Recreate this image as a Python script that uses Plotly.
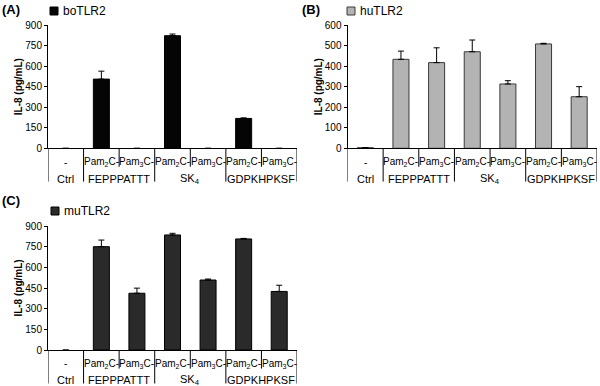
import plotly.graph_objects as go

# ---------------- data ----------------
categories = ["Ctrl", "FEPPPATTT Pam2C", "FEPPPATTT Pam3C", "SK4 Pam2C", "SK4 Pam3C",
              "GDPKHPKSF Pam2C", "GDPKHPKSF Pam3C"]
row1_labels = ["-", "Pam<sub>2</sub>C-", "Pam<sub>3</sub>C-", "Pam<sub>2</sub>C-",
               "Pam<sub>3</sub>C-", "Pam<sub>2</sub>C-", "Pam<sub>3</sub>C-"]
group_labels = ["Ctrl", "FEPPPATTT", "SK<sub>4</sub>", "GDPKHPKSF"]
group_centers = [0, 1.5, 3.5, 5.5]
group_edges = [-0.5, 0.5, 2.5, 4.5, 6.5]
inner_edges = [1.5, 3.5, 5.5]

bo_values = [0, 505, 0, 822, 0, 218, 0]
bo_err = [0, 58, 0, 12, 0, 4, 0]
hu_values = [3, 433, 417, 470, 313, 508, 251]
hu_err = [0, 40, 72, 57, 16, 3, 49]
mu_values = [0, 750, 412, 835, 508, 806, 425]
mu_err = [0, 48, 37, 12, 7, 4, 45]

FONT = "Liberation Sans, Arial, sans-serif"

panels = [
    dict(name="boTLR2", vals=bo_values, err=bo_err, color="#050505", line="#000000",
         xa="x", ya="y", rng=[0, 900], dt=150, label="(A)",
         key=(50, 7, 58, 15), label_pos=(0, 1.0)),
    dict(name="huTLR2", vals=hu_values, err=hu_err, color="#b3b3b3", line="#3a3a3a",
         xa="x2", ya="y2", rng=[0, 600], dt=100, label="(B)",
         key=(347, 7, 355, 15), label_pos=(300, 1.0)),
    dict(name="muTLR2", vals=mu_values, err=mu_err, color="#2a2a2a", line="#000000",
         xa="x3", ya="y3", rng=[0, 900], dt=150, label="(C)",
         key=(51, 207, 59, 215), label_pos=(0, 1 - 191 / 386)),
]

fig = go.Figure()
for p in panels:
    fig.add_trace(go.Bar(
        x=categories, y=p["vals"], name=p["name"], xaxis=p["xa"], yaxis=p["ya"],
        showlegend=False, width=0.45,
        marker=dict(color=p["color"],
                    line=dict(color=p["line"], width=[1 if v > 0 else 0 for v in p["vals"]])),
        error_y=dict(type="data", array=p["err"], arrayminus=[0] * len(p["err"]),
                     symmetric=False, color="#000000", thickness=1, width=3),
    ))

domains = {
    "x": [48 / 600, 297 / 600], "y": [1 - 148.3 / 386, 1 - 25 / 386],
    "x2": [347.5 / 600, 597 / 600], "y2": [1 - 148.3 / 386, 1 - 25 / 386],
    "x3": [48 / 600, 297 / 600], "y3": [1 - 350 / 386, 1 - 226 / 386],
}

layout = dict(
    width=600, height=386, margin=dict(l=0, r=0, t=0, b=0),
    paper_bgcolor="white", plot_bgcolor="white",
    font=dict(family=FONT, color="#000000", size=10),
    showlegend=False,
)

shapes = []
annotations = []
for i, p in enumerate(panels):
    sfx = "" if i == 0 else str(i + 1)
    layout["xaxis" + sfx] = dict(
        domain=domains[p["xa"]], anchor=p["ya"], type="category",
        range=[-0.5, 6.5], showline=True, linecolor="#000000", linewidth=1,
        showticklabels=False, ticks="", showgrid=False, zeroline=False,
        fixedrange=True,
    )
    layout["yaxis" + sfx] = dict(
        domain=domains[p["ya"]], anchor=p["xa"], range=p["rng"], dtick=p["dt"],
        showline=True, linecolor="#000000", linewidth=1, ticks="outside",
        ticklen=3, tickcolor="#000000", showgrid=False, zeroline=False,
        tickfont=dict(size=10), automargin=False, fixedrange=True,
        title=dict(text="<b>IL-8 (pg/mL)</b>", font=dict(size=10), standoff=0),
    )
    ydom = p["ya"] + " domain"
    # category table lines
    for e in group_edges:
        shapes.append(dict(type="line", xref=p["xa"], yref=ydom, x0=e, x1=e,
                           y0=0, y1=-0.27, line=dict(color="#000000", width=1)))
    for e in inner_edges:
        shapes.append(dict(type="line", xref=p["xa"], yref=ydom, x0=e, x1=e,
                           y0=0, y1=-0.15, line=dict(color="#000000", width=1)))
    for j, t in enumerate(row1_labels):
        annotations.append(dict(text=t, xref=p["xa"], yref=ydom, x=j, y=-0.112,
                                showarrow=False, xanchor="center", yanchor="middle",
                                font=dict(size=10)))
    for c, t in zip(group_centers, group_labels):
        annotations.append(dict(text=t, xref=p["xa"], yref=ydom, x=c, y=-0.245,
                                showarrow=False, xanchor="center", yanchor="middle",
                                font=dict(size=11)))
    # panel label
    lx, ly = p["label_pos"]
    annotations.append(dict(text="<b>" + p["label"] + "</b>", xref="paper", yref="paper",
                            x=lx / 600, y=ly, xanchor="left", yanchor="top",
                            showarrow=False, font=dict(size=13)))
    # key (series name with colour swatch)
    x0, y0, x1, y1 = p["key"]
    shapes.append(dict(type="rect", xref="paper", yref="paper",
                       x0=x0 / 600, x1=x1 / 600, y0=1 - y1 / 386, y1=1 - y0 / 386,
                       fillcolor=p["color"], line=dict(color=p["line"], width=1)))
    annotations.append(dict(text=p["name"], xref="paper", yref="paper",
                            x=(x1 + 3) / 600, y=1 - (y0 + y1) / 2 / 386,
                            xanchor="left", yanchor="middle", showarrow=False,
                            font=dict(size=12)))

layout["shapes"] = shapes
layout["annotations"] = annotations
fig.update_layout(**layout)

fig.write_html("out.html", config={"displayModeBar": False},
               post_script="document.body.style.margin='0px';")
